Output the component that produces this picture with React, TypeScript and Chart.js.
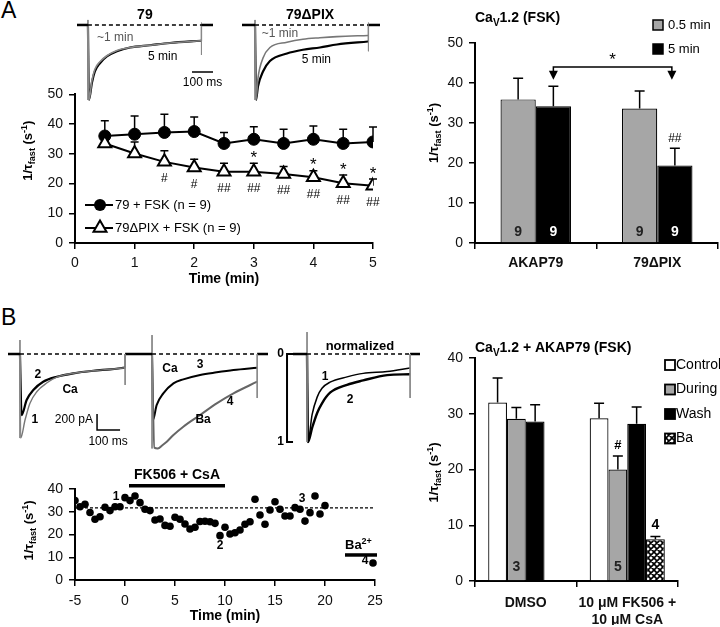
import React, { useEffect, useRef } from 'react';
import { Chart, registerables } from 'chart.js';
Chart.register(...registerables);

const FONT = '"Liberation Sans", Arial, Helvetica, sans-serif';
Chart.defaults.font.family = FONT;

// ---------------- Panel A: time course ----------------
const timeA = [0.5, 1, 1.5, 2, 2.5, 3, 3.5, 4, 4.5, 5];
const wtMean = [36.0, 36.6, 37.2, 37.5, 33.5, 34.9, 33.5, 34.9, 33.5, 34.0];
const wtErr = [5.1, 6.1, 6.1, 4.9, 3.7, 4.2, 4.8, 4.5, 4.8, 5.0];
const pixMean = [33.5, 30.1, 27.3, 25.4, 24.0, 24.0, 23.2, 22.1, 20.1, 19.3];
const pixErr = [0, 3.9, 3.7, 2.8, 2.8, 2.8, 2.5, 2.2, 2.8, 2.2];
const pixStar = ['', '', '', '', '', '*', '', '*', '*', '*'];
const pixHash = ['', '', '#', '#', '##', '##', '##', '##', '##', '##'];
const legendA = ['79 + FSK (n = 9)', '79ΔPIX + FSK (n = 9)'];

// ---------------- Panel A: bar summary ----------------
const catA = ['AKAP79', '79ΔPIX'];
const seriesA = ['0.5 min', '5 min'];
const barA05 = [35.9, 33.6];
const barA05Err = [5.3, 4.4];
const barA5 = [34.2, 19.4];
const barA5Err = [5.0, 4.3];
const nA05 = ['9', '9'];
const nA5 = ['9', '9'];

// ---------------- Panel A: current traces (ms, normalized current) ----------------
const a79T = [0, 5, 19, 33, 57, 90, 138, 200, 295, 390, 538];
const a79Early = [0, -1, -0.74, -0.59, -0.49, -0.41, -0.34, -0.3, -0.27, -0.24, -0.21];
const a79Late = [0, -1, -0.77, -0.62, -0.51, -0.42, -0.35, -0.3, -0.27, -0.24, -0.21];
const aPixT = [0, 5, 14, 38, 71, 152, 228, 309, 390, 538];
const aPixEarly = [0, -1, -0.71, -0.44, -0.3, -0.23, -0.19, -0.17, -0.155, -0.14];
const aPixLate = [0, -1, -0.82, -0.62, -0.48, -0.38, -0.33, -0.3, -0.26, -0.22];

// ---------------- Panel B: current traces (ms, pA) ----------------
const b1T1 = [0, 3, 22, 43, 73, 116, 160, 232, 319, 392, 457];
const b1I1 = [0, -1050, -825, -617, -471, -363, -290, -241, -209, -191, -171];
const b1T2 = [0, 7, 29, 58, 101, 160, 232, 319, 392, 457];
const b1I2 = [0, -763, -575, -450, -346, -284, -241, -209, -191, -171];
const b2CaT = [0, 4, 20, 49, 93, 136, 209, 281, 354, 457];
const b2CaI = [0, -825, -638, -492, -367, -317, -262, -229, -200, -171];
const b2BaT = [0, 10, 25, 45, 64, 93, 136, 209, 281, 354, 457];
const b2BaI = [0, -1170, -1180, -1140, -1096, -1012, -908, -762, -617, -492, -346];
const b3T = [0, 4, 22, 44, 65, 100, 174, 244, 348, 448];
const b3N1 = [0, -1, -0.69, -0.49, -0.39, -0.32, -0.26, -0.22, -0.2, -0.16];
const b3N2 = [0, -1, -0.84, -0.67, -0.56, -0.44, -0.35, -0.3, -0.24, -0.23];

// ---------------- Panel B: time course ----------------
const timeB = [-5, -4.5, -4, -3.5, -3, -2.5, -2, -1.5, -1, -0.5, 0, 0.5, 1, 1.5, 2, 2.5, 3, 3.5, 4, 4.5, 5, 5.5, 6, 6.5, 7, 7.5, 8, 8.5, 9, 9.5, 10, 10.5, 11, 11.5, 12, 12.5, 13, 13.5, 14, 14.5, 15, 15.5, 16, 16.5, 17, 17.5, 18, 18.5, 19, 19.5, 20];
const tauB = [34.9, 32.2, 33.3, 29.7, 26.7, 27.8, 32.0, 30.5, 32.2, 32.2, 36.2, 34.9, 36.9, 34.0, 31.1, 30.5, 26.4, 26.8, 24.0, 23.6, 27.6, 26.7, 24.6, 22.4, 23.2, 25.7, 25.8, 25.6, 24.9, 19.5, 23.2, 20.2, 20.8, 22.0, 24.5, 25.6, 35.5, 28.6, 24.5, 30.8, 34.4, 31.1, 28.1, 28.1, 31.8, 31.1, 25.9, 29.6, 36.9, 29.0, 32.7];
const baTimeB = [24.8];
const baTauB = [7.5];
const controlLevelB = 31.7;
const drugPeriod = [0.4, 10];
const baPeriod = [22, 25.2];

// ---------------- Panel B: bar summary ----------------
const catB = [['DMSO'], ['10 μM FK506 +', '10 μM CsA']];
const seriesB = ['Control', 'During', 'Wash', 'Ba'];
const ctrlB = [32.0, 29.2];
const ctrlErr = [4.4, 2.7];
const duringB = [29.1, 20.0];
const duringErr = [2.0, 2.4];
const washB = [28.6, 28.2];
const washErr = [3.0, 3.0];
const baB = [null, 7.5];
const baErr = [null, 0.5];
const nDuringB = ['3', '5'];

// ---------------- helpers ----------------
type Box = { l: number; t: number; w: number; h: number };
type Area = { l: number; t: number; r: number; b: number };
type Part = { t: string; sub?: boolean; sup?: boolean };
type Lbl = { s: string; x: number; y: number; size?: number; bold?: boolean; color?: string; align?: CanvasTextAlign };

const tauTitle: Part[] = [{ t: '1/τ' }, { t: 'fast', sub: true }, { t: ' (s' }, { t: '-1', sup: true }, { t: ')' }];

function padFor(box: Box, a: Area, yW: number, xH: number) {
  return { left: a.l - box.l - yW, top: a.t - box.t, right: box.l + box.w - a.r, bottom: box.t + box.h - a.b - xH };
}

function zip(xs: number[], ys: (number | null)[]) {
  return xs.map((x, i) => ({ x, y: ys[i] as number }));
}

function txt(ctx: CanvasRenderingContext2D, s: string, x: number, y: number, o: any = {}) {
  ctx.save();
  ctx.font = `${o.bold ? 'bold ' : ''}${o.size ?? 13}px ${FONT}`;
  ctx.fillStyle = o.color ?? '#000';
  ctx.textAlign = o.align ?? 'center';
  ctx.textBaseline = 'middle';
  ctx.fillText(s, x, y);
  ctx.restore();
}

function rich(ctx: CanvasRenderingContext2D, parts: Part[], x: number, y: number, size: number, bold: boolean, align: 'left' | 'center', rotate = false) {
  ctx.save();
  ctx.translate(x, y);
  if (rotate) ctx.rotate(-Math.PI / 2);
  const f = (p: Part) => `${bold ? 'bold ' : ''}${p.sub || p.sup ? Math.round(size * 0.68) : size}px ${FONT}`;
  let total = 0;
  parts.forEach((p) => { ctx.font = f(p); total += ctx.measureText(p.t).width; });
  let cx = align === 'center' ? -total / 2 : 0;
  ctx.fillStyle = '#000';
  ctx.textAlign = 'left';
  ctx.textBaseline = 'alphabetic';
  const base = size * 0.36;
  parts.forEach((p) => {
    ctx.font = f(p);
    const dy = p.sub ? size * 0.28 : p.sup ? -size * 0.38 : 0;
    ctx.fillText(p.t, cx, base + dy);
    cx += ctx.measureText(p.t).width;
  });
  ctx.restore();
}

function drawErrors(chart: any, cap: number, lw: number) {
  const ctx = chart.ctx;
  const ys = chart.scales.y;
  chart.data.datasets.forEach((ds: any, i: number) => {
    if (!ds.errors) return;
    const meta = chart.getDatasetMeta(i);
    meta.data.forEach((el: any, j: number) => {
      const raw = ds.data[j];
      const v = raw && typeof raw === 'object' ? raw.y : raw;
      const e = ds.errors[j];
      if (v == null || !e) return;
      const top = ys.getPixelForValue(v + e);
      ctx.save();
      ctx.strokeStyle = '#000';
      ctx.lineWidth = lw;
      ctx.beginPath();
      ctx.moveTo(el.x, el.y);
      ctx.lineTo(el.x, top);
      ctx.moveTo(el.x - cap, top);
      ctx.lineTo(el.x + cap, top);
      ctx.stroke();
      ctx.restore();
    });
  });
}

function drawTri(ctx: CanvasRenderingContext2D, x: number, y: number, r: number) {
  ctx.beginPath();
  ctx.moveTo(x, y - r);
  ctx.lineTo(x + 0.866 * r, y + 0.5 * r);
  ctx.lineTo(x - 0.866 * r, y + 0.5 * r);
  ctx.closePath();
}

const baseOpts = {
  animation: false,
  responsive: false,
  events: [],
};

function axisStyle(tickSize = 14, bold = false) {
  return {
    grid: { display: true, drawOnChartArea: false, drawTicks: true, tickLength: 6, color: '#000', lineWidth: 1.5 },
    border: { display: true, color: '#000', width: 2 },
    ticks: { color: '#111', font: { family: FONT, size: tickSize, weight: bold ? 'bold' : 'normal' }, padding: 6, maxRotation: 0, minRotation: 0, autoSkip: false },
  };
}

// ---------------- chart builders ----------------
const boxALine: Box = { l: 0, t: 80, w: 390, h: 230 };
const areaALine: Area = { l: 75, t: 93, r: 373, b: 243 };

function buildALine() {
  const ax = axisStyle();
  return {
    type: 'line',
    data: {
      datasets: [
        {
          label: legendA[1], data: zip(timeA, pixMean), errors: pixErr, borderColor: '#000', borderWidth: 2,
          pointStyle: 'triangle', pointRadius: 7.5, pointBackgroundColor: '#fff', pointBorderColor: '#000', pointBorderWidth: 2,
        },
        {
          label: legendA[0], data: zip(timeA, wtMean), errors: wtErr, borderColor: '#000', borderWidth: 2,
          pointStyle: 'circle', pointRadius: 6, pointBackgroundColor: '#000', pointBorderColor: '#000', pointBorderWidth: 1,
        },
      ],
    },
    options: {
      ...baseOpts,
      layout: { padding: padFor(boxALine, areaALine, 45, 45) },
      plugins: { legend: { display: false }, tooltip: { enabled: false } },
      scales: {
        x: {
          type: 'linear', min: 0, max: 5, ...ax, ticks: { ...ax.ticks, stepSize: 1 },
          title: { display: true, text: 'Time (min)', color: '#000', font: { family: FONT, size: 14, weight: 'bold' }, padding: 0 },
          afterFit: (s: any) => { s.height = 45; },
        },
        y: {
          type: 'linear', min: 0, max: 50, ...ax, ticks: { ...ax.ticks, stepSize: 10 },
          afterFit: (s: any) => { s.width = 45; },
        },
      },
    },
    plugins: [
      { id: 'errA', beforeDatasetsDraw: (c: any) => drawErrors(c, 4, 1.5) },
      {
        id: 'annA',
        afterDatasetsDraw: (c: any) => {
          const ctx = c.ctx, ys = c.scales.y, a = c.chartArea;
          const meta = c.getDatasetMeta(0);
          meta.data.forEach((el: any, j: number) => {
            if (pixStar[j]) txt(ctx, pixStar[j], el.x, ys.getPixelForValue(pixMean[j] + pixErr[j]) - 5, { size: 17 });
            if (pixHash[j]) txt(ctx, pixHash[j], el.x, el.y + 17, { size: 12 });
          });
          c.data.datasets.slice().reverse().forEach((ds: any, i: number) => {
            const y = a.bottom - 38 + i * 23;
            ctx.save();
            ctx.strokeStyle = '#000';
            ctx.lineWidth = 2;
            ctx.beginPath();
            ctx.moveTo(a.left + 10, y);
            ctx.lineTo(a.left + 38, y);
            ctx.stroke();
            if (ds.pointStyle === 'triangle') {
              drawTri(ctx, a.left + 25, y, 7.5);
              ctx.fillStyle = '#fff';
              ctx.fill();
              ctx.stroke();
            } else {
              ctx.beginPath();
              ctx.arc(a.left + 25, y, 6, 0, Math.PI * 2);
              ctx.fillStyle = '#000';
              ctx.fill();
            }
            ctx.restore();
            txt(ctx, ds.label, a.left + 40, y, { size: 13, align: 'left' });
          });
          rich(ctx, tauTitle, a.left - 48, (a.top + a.bottom) / 2 - 18, 13, true, 'center', true);
        },
      },
    ],
  };
}

const boxABar: Box = { l: 390, t: 0, w: 330, h: 300 };
const areaABar: Area = { l: 475, t: 43, r: 718, b: 243 };

function buildABar() {
  const ax = axisStyle();
  return {
    type: 'bar',
    data: {
      labels: catA,
      datasets: [
        { label: seriesA[0], data: barA05, errors: barA05Err, nums: nA05, numColor: '#222', backgroundColor: '#a6a6a6', borderColor: '#000', borderWidth: 1.2, barPercentage: 1, categoryPercentage: 0.58 },
        { label: seriesA[1], data: barA5, errors: barA5Err, nums: nA5, numColor: '#fff', backgroundColor: '#000', borderColor: '#000', borderWidth: 1.2, barPercentage: 1, categoryPercentage: 0.58 },
      ],
    },
    options: {
      ...baseOpts,
      layout: { padding: padFor(boxABar, areaABar, 40, 40) },
      plugins: { legend: { display: false }, tooltip: { enabled: false } },
      scales: {
        x: {
          type: 'category', offset: true, ...ax, grid: { ...ax.grid, offset: true },
          ticks: { ...ax.ticks, font: { family: FONT, size: 14, weight: 'bold' } },
          afterFit: (s: any) => { s.height = 40; },
        },
        y: {
          type: 'linear', min: 0, max: 50, ...ax, ticks: { ...ax.ticks, stepSize: 10 },
          afterFit: (s: any) => { s.width = 40; },
        },
      },
    },
    plugins: [
      {
        id: 'annABar',
        afterDatasetsDraw: (c: any) => {
          drawErrors(c, 5, 1.5);
          const ctx = c.ctx, ys = c.scales.y, a = c.chartArea;
          c.data.datasets.forEach((ds: any, i: number) => {
            c.getDatasetMeta(i).data.forEach((el: any, j: number) => {
              txt(ctx, ds.nums[j], el.x, ys.getPixelForValue(0) - 11, { size: 14, bold: true, color: ds.numColor });
            });
          });
          const m1 = c.getDatasetMeta(1).data;
          txt(ctx, '##', m1[1].x, ys.getPixelForValue(barA5[1] + barA5Err[1]) - 10, { size: 12 });
          const x1 = m1[0].x, x2 = m1[1].x - 3;
          const yl = ys.getPixelForValue(44), ya = ys.getPixelForValue(40.8);
          ctx.save();
          ctx.strokeStyle = '#000';
          ctx.fillStyle = '#000';
          ctx.lineWidth = 1.5;
          ctx.beginPath();
          ctx.moveTo(x1, ya - 6);
          ctx.lineTo(x1, yl);
          ctx.lineTo(x2, yl);
          ctx.lineTo(x2, ya - 6);
          ctx.stroke();
          [x1, x2].forEach((x) => {
            ctx.beginPath();
            ctx.moveTo(x - 4.5, ya - 9);
            ctx.lineTo(x + 4.5, ya - 9);
            ctx.lineTo(x, ya);
            ctx.closePath();
            ctx.fill();
          });
          ctx.restore();
          txt(ctx, '*', (x1 + x2) / 2, ys.getPixelForValue(46.3) + 3, { size: 17 });
          c.data.datasets.forEach((ds: any, i: number) => {
            const y = 25 + i * 24;
            const x = c.width - 67;
            ctx.save();
            ctx.fillStyle = ds.backgroundColor;
            ctx.fillRect(x, y - 5, 10, 10);
            ctx.strokeStyle = '#000';
            ctx.lineWidth = 1.5;
            ctx.strokeRect(x, y - 5, 10, 10);
            ctx.restore();
            txt(ctx, ds.label, x + 15, y, { size: 13, align: 'left' });
          });
          rich(ctx, [{ t: 'Ca' }, { t: 'V', sub: true }, { t: '1.2 (FSK)' }], a.left, 17, 14, true, 'left');
          rich(ctx, tauTitle, a.left - 42, (a.top + a.bottom) / 2 - 10, 13, true, 'center', true);
        },
      },
    ],
  };
}

const boxBScat: Box = { l: 0, t: 465, w: 390, h: 162 };
const areaBScat: Area = { l: 75, t: 489, r: 375, b: 580 };

function buildBScatter() {
  const ax = axisStyle();
  return {
    type: 'scatter',
    data: {
      datasets: [
        { data: zip(timeB, tauB), pointRadius: 3.8, pointBackgroundColor: '#000', pointBorderColor: '#000', pointBorderWidth: 0 },
        { data: zip(baTimeB, baTauB), pointRadius: 3.8, pointBackgroundColor: '#000', pointBorderColor: '#000', pointBorderWidth: 0, clip: false },
        { data: zip([-5, 25], [controlLevelB, controlLevelB]), showLine: true, borderColor: '#000', borderWidth: 1.2, borderDash: [3, 2], pointRadius: 0 },
        { data: zip(drugPeriod, [41.4, 41.4]), showLine: true, borderColor: '#000', borderWidth: 3.5, pointRadius: 0, clip: false },
        { data: zip(baPeriod, [11, 11]), showLine: true, borderColor: '#000', borderWidth: 3.5, pointRadius: 0, clip: false },
      ],
    },
    options: {
      ...baseOpts,
      layout: { padding: padFor(boxBScat, areaBScat, 45, 45) },
      plugins: { legend: { display: false }, tooltip: { enabled: false } },
      scales: {
        x: {
          type: 'linear', min: -5, max: 25, ...ax, ticks: { ...ax.ticks, stepSize: 5, padding: 7 },
          title: { display: true, text: 'Time (min)', color: '#000', font: { family: FONT, size: 14, weight: 'bold' }, padding: 0 },
          afterFit: (s: any) => { s.height = 45; },
        },
        y: {
          type: 'linear', min: 0, max: 40, ...ax, ticks: { ...ax.ticks, stepSize: 10 },
          afterFit: (s: any) => { s.width = 45; },
        },
      },
    },
    plugins: [
      {
        id: 'annB',
        afterDatasetsDraw: (c: any) => {
          const ctx = c.ctx, xs = c.scales.x, ys = c.scales.y, a = c.chartArea;
          const P = (x: number, y: number): [number, number] => [xs.getPixelForValue(x), ys.getPixelForValue(y)];
          let p = P((drugPeriod[0] + drugPeriod[1]) / 2, 46.3);
          txt(ctx, 'FK506 + CsA', p[0], p[1], { size: 14, bold: true });
          p = P(-0.9, 36.6); txt(ctx, '1', p[0], p[1], { size: 12, bold: true });
          p = P(9.5, 15); txt(ctx, '2', p[0], p[1], { size: 12, bold: true });
          p = P(17.7, 35.7); txt(ctx, '3', p[0], p[1], { size: 12, bold: true });
          p = P(24.0, 8.3); txt(ctx, '4', p[0], p[1], { size: 12, bold: true });
          p = P(baPeriod[0], 15.6);
          rich(ctx, [{ t: 'Ba' }, { t: '2+', sup: true }], p[0], p[1], 13, true, 'left');
          rich(ctx, tauTitle, a.left - 47, (a.top + a.bottom) / 2 - 4, 13, true, 'center', true);
        },
      },
    ],
  };
}

const boxBBar: Box = { l: 390, t: 330, w: 330, h: 297 };
const areaBBar: Area = { l: 475, t: 358, r: 678, b: 581 };

function makeHatch() {
  const cv = document.createElement('canvas');
  cv.width = 6;
  cv.height = 6;
  const g = cv.getContext('2d')!;
  g.fillStyle = '#fff';
  g.fillRect(0, 0, 6, 6);
  g.strokeStyle = '#000';
  g.lineWidth = 1.6;
  g.beginPath();
  g.moveTo(-1, -1); g.lineTo(7, 7);
  g.moveTo(7, -1); g.lineTo(-1, 7);
  g.moveTo(-4, 2); g.lineTo(2, -4);
  g.moveTo(4, 10); g.lineTo(10, 4);
  g.moveTo(-4, 4); g.lineTo(2, 10);
  g.moveTo(4, -4); g.lineTo(10, 2);
  g.stroke();
  return g.createPattern(cv, 'repeat');
}

function buildBBar() {
  const ax = axisStyle();
  const hatch = makeHatch();
  const common = { borderColor: '#000', borderWidth: 1.2, barPercentage: 1, categoryPercentage: 0.74 };
  return {
    type: 'bar',
    data: {
      labels: catB,
      datasets: [
        { label: seriesB[0], data: ctrlB, errors: ctrlErr, backgroundColor: '#fff', ...common },
        { label: seriesB[1], data: duringB, errors: duringErr, backgroundColor: '#a6a6a6', ...common },
        { label: seriesB[2], data: washB, errors: washErr, backgroundColor: '#000', ...common },
        { label: seriesB[3], data: baB, errors: baErr, backgroundColor: hatch, ...common },
      ],
    },
    options: {
      ...baseOpts,
      layout: { padding: padFor(boxBBar, areaBBar, 40, 44) },
      plugins: { legend: { display: false }, tooltip: { enabled: false } },
      scales: {
        x: {
          type: 'category', offset: true, ...ax, grid: { ...ax.grid, offset: true },
          ticks: { ...ax.ticks, padding: 8, font: { family: FONT, size: 14, weight: 'bold' } },
          afterFit: (s: any) => { s.height = 44; },
        },
        y: {
          type: 'linear', min: 0, max: 40, ...ax, ticks: { ...ax.ticks, stepSize: 10 },
          afterFit: (s: any) => { s.width = 40; },
        },
      },
    },
    plugins: [
      {
        id: 'annBBar',
        afterDatasetsDraw: (c: any) => {
          drawErrors(c, 5, 1.5);
          const ctx = c.ctx, ys = c.scales.y, a = c.chartArea;
          const md = c.getDatasetMeta(1).data;
          md.forEach((el: any, j: number) => txt(ctx, nDuringB[j], el.x, ys.getPixelForValue(0) - 14, { size: 14, bold: true, color: '#222' }));
          txt(ctx, '#', md[1].x, ys.getPixelForValue(duringB[1] + duringErr[1]) - 11, { size: 13, bold: true });
          const mb = c.getDatasetMeta(3).data;
          txt(ctx, '4', mb[1].x, ys.getPixelForValue((baB[1] as number) + (baErr[1] as number)) - 11, { size: 14, bold: true });
          c.data.datasets.forEach((ds: any, i: number) => {
            const y = 35 + i * 24.5;
            const x = c.width - 55;
            ctx.save();
            ctx.fillStyle = ds.backgroundColor;
            ctx.fillRect(x, y - 5, 10, 10);
            ctx.strokeStyle = '#000';
            ctx.lineWidth = 1.8;
            ctx.strokeRect(x, y - 5, 10, 10);
            ctx.restore();
            txt(ctx, ds.label, x + 11, y, { size: 14, align: 'left' });
          });
          rich(ctx, [{ t: 'Ca' }, { t: 'V', sub: true }, { t: '1.2 + AKAP79 (FSK)' }], a.left, 17, 14, true, 'left');
          rich(ctx, tauTitle, a.left - 42, (a.top + a.bottom) / 2 + 3, 13, true, 'center', true);
        },
      },
    ],
  };
}

// ---------------- traces ----------------
type TSet = { pts: { x: number; y: number }[]; color: string; width: number; dash?: number[]; smooth?: boolean };

function traceConfig(xr: [number, number], yr: [number, number], sets: TSet[], labels: Lbl[], extra?: (c: any) => void) {
  return {
    type: 'line',
    data: {
      datasets: sets.map((s) => ({
        data: s.pts, borderColor: s.color, borderWidth: s.width, borderDash: s.dash ?? [], pointRadius: 0,
        cubicInterpolationMode: s.smooth ? 'monotone' : 'default', tension: 0, fill: false, clip: false,
      })),
    },
    options: {
      ...baseOpts,
      layout: { padding: 0 },
      plugins: { legend: { display: false }, tooltip: { enabled: false } },
      scales: {
        x: { type: 'linear', display: false, min: xr[0], max: xr[1] },
        y: { type: 'linear', display: false, min: yr[0], max: yr[1] },
      },
    },
    plugins: [
      {
        id: 'traceLabels',
        afterDatasetsDraw: (c: any) => {
          const xs = c.scales.x, ys = c.scales.y;
          labels.forEach((l) => txt(c.ctx, l.s, xs.getPixelForValue(l.x), ys.getPixelForValue(l.y), l));
          if (extra) extra(c);
        },
      },
    ],
  };
}

const boxA1: Box = { l: 77, t: 0, w: 156, h: 105 };
const boxA2: Box = { l: 242, t: 0, w: 138, h: 105 };
const boxB1: Box = { l: 8, t: 330, w: 130, h: 125 };
const boxB2: Box = { l: 138, t: 330, w: 130, h: 125 };
const boxB3: Box = { l: 270, t: 330, w: 150, h: 125 };

function buildA1() {
  return traceConfig([-52, 690], [-1.067, 0.333], [
    { pts: zip([-52, 0], [0, 0]), color: '#000', width: 2.5 },
    { pts: zip([0, 540, 595], [0, 0, 0]), color: '#000', width: 1.5, dash: [4, 3] },
    { pts: zip([0, 0], [0.067, -1]), color: '#888', width: 1 },
    { pts: zip([540, 540], [0.03, -0.4]), color: '#888', width: 1 },
    { pts: zip(a79T, a79Early), color: '#888', width: 1.6, smooth: true },
    { pts: zip(a79T, a79Late), color: '#000', width: 2.2, smooth: true },
    { pts: zip([538, 540], [-0.21, 0]), color: '#000', width: 1.2 },
    { pts: zip([540, 595], [0, 0]), color: '#000', width: 2.5 },
    { pts: zip([495, 595], [-0.627, -0.627]), color: '#000', width: 1.5 },
  ], [
    { s: '79', x: 271, y: 0.133, size: 14, bold: true },
    { s: '~1 min', x: 43, y: -0.173, size: 12, color: '#555', align: 'left' },
    { s: '5 min', x: 286, y: -0.427, size: 12, align: 'left' },
    { s: '100 ms', x: 545, y: -0.773, size: 12 },
  ]);
}

function buildA2() {
  return traceConfig([-62, 595], [-1.067, 0.333], [
    { pts: zip([-62, 0], [0, 0]), color: '#000', width: 2.5 },
    { pts: zip([0, 540], [0, 0]), color: '#000', width: 1.5, dash: [4, 3] },
    { pts: zip([0, 0], [0.067, -1]), color: '#888', width: 1 },
    { pts: zip([540, 540], [0.03, -0.35]), color: '#888', width: 1 },
    { pts: zip(aPixT, aPixEarly), color: '#777', width: 1.6, smooth: true },
    { pts: zip(aPixT, aPixLate), color: '#000', width: 2.2, smooth: true },
    { pts: zip([538, 540], [-0.22, 0]), color: '#000', width: 1.2 },
    { pts: zip([540, 595], [0, 0]), color: '#000', width: 2.5 },
  ], [
    { s: '79ΔPIX', x: 262, y: 0.133, size: 14, bold: true },
    { s: '~1 min', x: 32, y: -0.12, size: 12, color: '#555', align: 'left' },
    { s: '5 min', x: 222, y: -0.467, size: 12, align: 'left' },
  ]);
}

function buildB1() {
  return traceConfig([-52, 513], [-1262, 300], [
    { pts: zip([-52, 0], [0, 0]), color: '#000', width: 2.5 },
    { pts: zip([0, 457], [0, 0]), color: '#000', width: 1.5, dash: [4, 3] },
    { pts: zip([0, 0], [175, -1050]), color: '#888', width: 1 },
    { pts: zip([457, 457], [0, -387]), color: '#888', width: 1 },
    { pts: zip(b1T1, b1I1), color: '#777', width: 1.4, smooth: true },
    { pts: zip(b1T2, b1I2), color: '#000', width: 2.2, smooth: true },
    { pts: zip([457, 457], [-171, 0]), color: '#000', width: 1.2 },
    { pts: zip([457, 513], [0, 0]), color: '#000', width: 2.5 },
    { pts: zip([335, 335, 435], [-750, -950, -950]), color: '#000', width: 1.5 },
  ], [
    { s: '2', x: 78, y: -262, size: 12, bold: true },
    { s: '1', x: 65, y: -825, size: 12, bold: true },
    { s: 'Ca', x: 218, y: -450, size: 12, bold: true },
    { s: '200 pA', x: 317, y: -825, size: 12, align: 'right' },
    { s: '100 ms', x: 383, y: -1100, size: 12 },
  ]);
}

function buildB2() {
  return traceConfig([-61, 504], [-1262, 300], [
    { pts: zip([-61, 0], [0, 0]), color: '#000', width: 2.5 },
    { pts: zip([0, 457], [0, 0]), color: '#000', width: 1.5, dash: [4, 3] },
    { pts: zip([0, 0], [237, -1180]), color: '#888', width: 1 },
    { pts: zip([457, 457], [0, -550]), color: '#888', width: 1 },
    { pts: zip(b2BaT, b2BaI), color: '#666', width: 2, smooth: true },
    { pts: zip(b2CaT, b2CaI), color: '#000', width: 2, smooth: true },
    { pts: zip([457, 504], [0, 0]), color: '#000', width: 2.5 },
  ], [
    { s: 'Ca', x: 78, y: -188, size: 12, bold: true },
    { s: '3', x: 209, y: -138, size: 12, bold: true },
    { s: '4', x: 339, y: -600, size: 12, bold: true },
    { s: 'Ba', x: 222, y: -825, size: 12, bold: true },
  ]);
}

function buildB3() {
  return traceConfig([-161, 491], [-1.148, 0.273], [
    { pts: zip([-61, 0], [0, 0]), color: '#000', width: 2.5 },
    { pts: zip([0, 448], [0, 0]), color: '#000', width: 1.5, dash: [4, 3] },
    { pts: zip([0, 0], [0.25, -1]), color: '#888', width: 1 },
    { pts: zip([448, 448], [0, -0.5]), color: '#888', width: 1 },
    { pts: zip(b3T, b3N1), color: '#000', width: 1.5, smooth: true },
    { pts: zip(b3T, b3N2), color: '#000', width: 2.4, smooth: true },
    { pts: zip([448, 491], [0, 0]), color: '#000', width: 2.5 },
  ], [
    { s: 'normalized', x: 230, y: 0.09, size: 13, bold: true },
    { s: '1', x: 78, y: -0.26, size: 12, bold: true },
    { s: '2', x: 187, y: -0.52, size: 12, bold: true },
  ], (c: any) => {
    const ctx = c.ctx, xs = c.scales.x, ys = c.scales.y;
    const x = xs.getPixelForValue(-87);
    const y0 = ys.getPixelForValue(0), y1 = ys.getPixelForValue(-1);
    ctx.save();
    ctx.strokeStyle = '#000';
    ctx.lineWidth = 2;
    ctx.beginPath();
    ctx.moveTo(x + 6, y0);
    ctx.lineTo(x, y0);
    ctx.lineTo(x, y1);
    ctx.lineTo(x + 6, y1);
    ctx.stroke();
    ctx.restore();
    txt(ctx, '0', x - 3, y0, { size: 12, bold: true, align: 'right' });
    txt(ctx, '1', x - 3, y1, { size: 12, bold: true, align: 'right' });
  });
}

// ---------------- components ----------------
function ChartCanvas({ box, build }: { box: Box; build: () => any }) {
  const ref = useRef<HTMLCanvasElement>(null);
  useEffect(() => {
    const chart = new Chart(ref.current as HTMLCanvasElement, build());
    return () => chart.destroy();
  }, []);
  return (
    <canvas
      ref={ref}
      width={box.w}
      height={box.h}
      style={{ position: 'absolute', left: box.l, top: box.t, width: box.w, height: box.h }}
    />
  );
}

const charts: { key: string; box: Box; build: () => any }[] = [
  { key: 'a1', box: boxA1, build: buildA1 },
  { key: 'a2', box: boxA2, build: buildA2 },
  { key: 'aline', box: boxALine, build: buildALine },
  { key: 'abar', box: boxABar, build: buildABar },
  { key: 'b1', box: boxB1, build: buildB1 },
  { key: 'b2', box: boxB2, build: buildB2 },
  { key: 'b3', box: boxB3, build: buildB3 },
  { key: 'bscat', box: boxBScat, build: buildBScatter },
  { key: 'bbar', box: boxBBar, build: buildBBar },
];

export default function App() {
  return (
    <div style={{ position: 'absolute', left: 0, top: 0, width: 720, height: 627, background: '#fff', overflow: 'hidden', fontFamily: FONT }}>
      <div style={{ position: 'absolute', left: 1, top: -3, fontSize: 23, lineHeight: 'normal' }}>A</div>
      <div style={{ position: 'absolute', left: 1, top: 304, fontSize: 23, lineHeight: 'normal' }}>B</div>
      {charts.map((c) => (
        <ChartCanvas key={c.key} box={c.box} build={c.build} />
      ))}
    </div>
  );
}
